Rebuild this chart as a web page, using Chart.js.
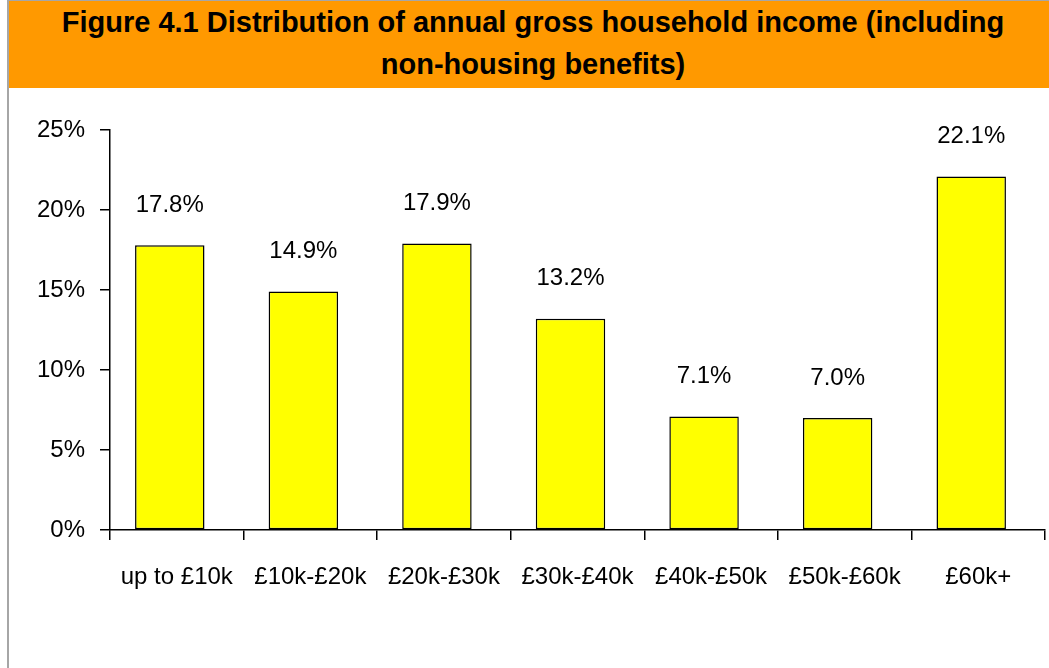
<!DOCTYPE html>
<html lang="en">
<head>
  <meta charset="UTF-8" />
  <title>Figure 4.1</title>
  <script src="https://cdn.jsdelivr.net/npm/chart.js"></script>
  <style>
    body {
      margin: 0;
      width: 1049px;
      height: 668px;
      overflow: hidden;
      background: #fff;
      font-family: "Liberation Sans", Arial, sans-serif;
    }
    .frame {
      position: absolute;
      left: 7px;
      top: 0;
      width: 1042px;
      height: 668px;
      border-left: 2px solid #a6a6a6;
      border-top: 1px solid #a6a6a6;
      box-sizing: border-box;
    }
    .title {
      height: 87px;
      background-color: #ff9900;
      color: #000;
      font-weight: bold;
      font-size: 29px;
      line-height: 42px;
      text-align: center;
      padding-left: 8px;
    }
    .chart-box {
      position: relative;
      width: 1040px;
      height: 580px;
    }
  </style>
</head>
<body>
  <div class="frame">
    <div class="title">Figure 4.1 Distribution of annual gross household income (including<br>non-housing benefits)</div>
    <div class="chart-box">
      <canvas id="incomeChart"></canvas>
    </div>
  </div>

  <script>
    const incomeBands = ["up to £10k", "£10k-£20k", "£20k-£30k", "£30k-£40k", "£40k-£50k", "£50k-£60k", "£60k+"];
    const sharePct = [17.8, 14.9, 17.9, 13.2, 7.1, 7.0, 22.1];
    const yTicks = [0, 5, 10, 15, 20, 25];

    const fontFamily = "'Liberation Sans', Arial, sans-serif";
    const barShift = -7; // bars sit a little left of the category centre in the original

    // nudge bars left, then write the value labels above them
    const barLabels = {
      id: "barLabels",
      beforeDatasetsDraw(chart) {
        chart.ctx.save();
        chart.ctx.translate(barShift, 0);
      },
      afterDatasetsDraw(chart) {
        const ctx = chart.ctx;
        const meta = chart.getDatasetMeta(0);
        ctx.font = "24px " + fontFamily;
        ctx.fillStyle = "#000";
        ctx.textAlign = "center";
        ctx.textBaseline = "middle";
        meta.data.forEach((bar, i) => {
          ctx.fillText(sharePct[i].toFixed(1) + "%", bar.x, bar.y - 40);
        });
        ctx.restore();
      }
    };

    new Chart(document.getElementById("incomeChart"), {
      type: "bar",
      data: {
        labels: incomeBands,
        datasets: [{
          data: sharePct,
          backgroundColor: "#ffff00",
          borderColor: "#000",
          borderWidth: 1.5,
          borderSkipped: false,
          categoryPercentage: 1,
          barPercentage: 0.52
        }]
      },
      options: {
        responsive: true,
        maintainAspectRatio: false,
        animation: false,
        layout: { padding: { top: 42, right: 4, left: 0, bottom: 0 } },
        plugins: {
          legend: { display: false },
          tooltip: { enabled: false }
        },
        scales: {
          x: {
            grid: {
              offset: true,
              drawOnChartArea: false,
              drawTicks: true,
              tickLength: 10,
              color: "#000",
              lineWidth: 1.5
            },
            border: { color: "#000", width: 1.5 },
            ticks: {
              color: "#000",
              padding: 23,
              maxRotation: 0,
              autoSkip: false,
              font: { family: fontFamily, size: 24 }
            },
            afterFit(scale) { scale.height = 138; }
          },
          y: {
            min: 0,
            max: 25,
            afterBuildTicks(scale) {
              scale.ticks = yTicks.map(v => ({ value: v }));
            },
            grid: {
              drawOnChartArea: false,
              drawTicks: true,
              tickLength: 10,
              color: "#000",
              lineWidth: 1.5
            },
            border: { color: "#000", width: 1.5 },
            ticks: {
              color: "#000",
              padding: 15,
              font: { family: fontFamily, size: 24 },
              callback: v => v + "%"
            },
            afterFit(scale) { scale.width = 101; }
          }
        }
      },
      plugins: [barLabels]
    });
  </script>
</body>
</html>
